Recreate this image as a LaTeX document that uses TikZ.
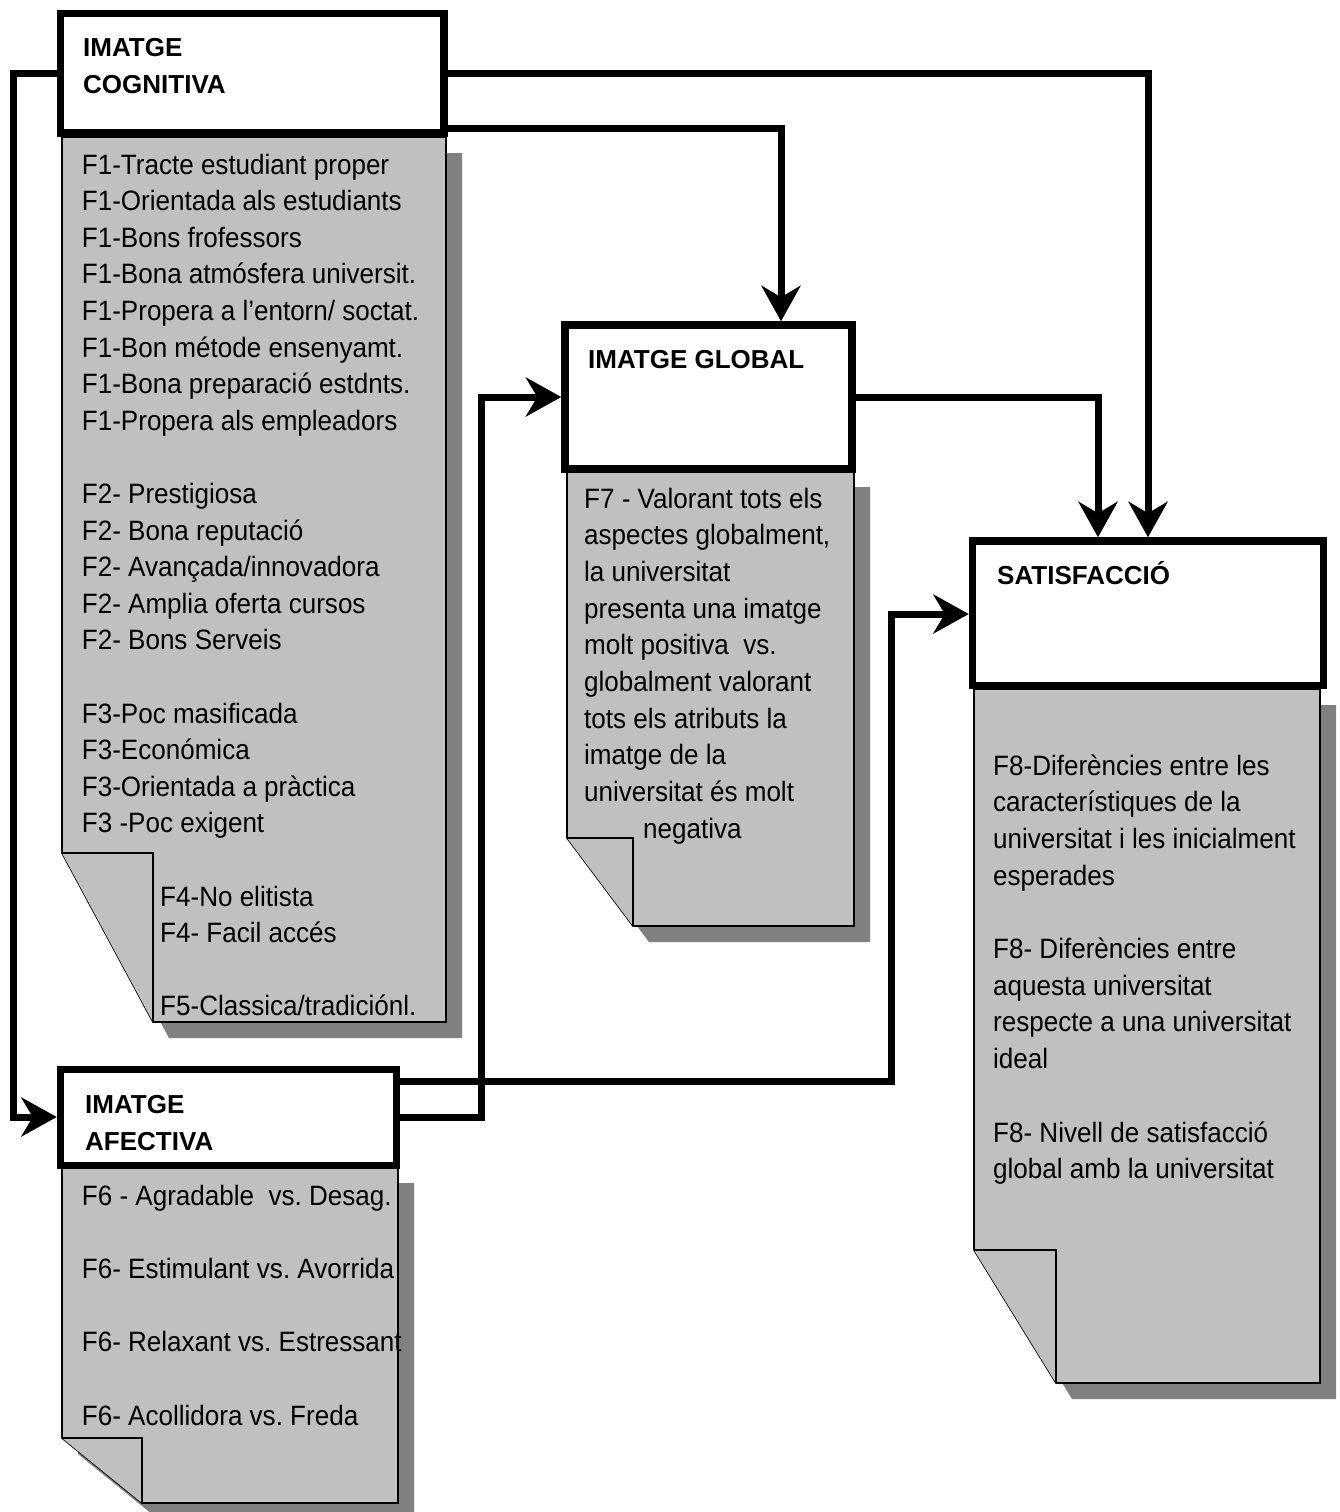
\documentclass[tikz,border=0pt]{standalone}
\usepackage{fontspec}
\setmainfont{Liberation Sans}
\newfontfamily\narrowsans[FakeStretch=0.93]{Liberation Sans}
\usetikzlibrary{arrows.meta,fit}

\definecolor{paper}{HTML}{C0C0C0}
\definecolor{dropgray}{HTML}{808080}

\tikzset{
  hdr/.style={draw=black, line width=7.5pt, fill=white, inner sep=0pt},
  conn/.style={line width=7pt, line join=miter,
    -{Stealth[length=36pt, width=40pt, inset=12pt, line width=0pt]}},
  body/.style={font=\narrowsans\fontsize{28}{36.6}\selectfont\frenchspacing,
    inner sep=0pt, anchor=base west},
  head/.style={font=\fontsize{26}{36.6}\selectfont\bfseries\frenchspacing,
    inner sep=0pt, anchor=base west},
  docedge/.style={draw=black, line width=1.6pt, fill=paper, line join=miter},
  dropshadow/.style={fill=dropgray, draw=none},
}

% sheet with folded lower-left corner and drop shadow:
% #1 left, #2 top, #3 right, #4 bottom, #5 fold x, #6 fold y
\newcommand\foldsheet[6]{%
  \path[dropshadow] (#1+16,#2+16) -- (#3+16,#2+16) -- (#3+16,#4+16)
     -- (#5+16,#4+16) -- (#1+16,#6+16) -- cycle;
  \draw[docedge] (#1,#2) -- (#3,#2) -- (#3,#4) -- (#5,#4) -- (#1,#6) -- cycle;
  \draw[docedge] (#1,#6) -- (#5,#6) -- (#5,#4);
}

\begin{document}
\begin{tikzpicture}[x=1pt, y=-1pt]
\useasboundingbox (0,0) rectangle (1339,1512);

% sheets
\foldsheet{62}{137}{446}{1022}{153}{853}
\foldsheet{567}{471}{854}{926}{633}{838}
\foldsheet{974}{689}{1320}{1383}{1056}{1250}
\foldsheet{62}{1167}{398}{1503}{142}{1438}

% header boxes
\node[hdr, fit={(60.5,13.5) (444,133)}] (cog) {};
\node[hdr, fit={(565,325) (852,469)}] (glob) {};
\node[hdr, fit={(972.5,541) (1323.5,685.5)}] (sat) {};
\node[hdr, fit={(60.5,1069.5) (396.5,1165.5)}] (afe) {};

% bend points
\coordinate (ka) at (13,73.5);
\coordinate (kb) at (13,1117);
\coordinate (kc) at (1148,73.5);
\coordinate (kd) at (781,128);
\coordinate (ke) at (1098,397);
\coordinate (kf) at (481,1117);
\coordinate (kg) at (481,397);
\coordinate (kh) at (891,1081);
\coordinate (ki) at (891,614);

% connectors
\draw[conn] (cog.west |- ka) -- (ka) -- (kb) -- (afe.west |- kb);
\draw[conn] (cog.east |- kc) -- (kc) -- (sat.north -| kc);
\draw[conn] (cog.east |- kd) -- (kd) -- (glob.north -| kd);
\draw[conn] (glob.east |- ke) -- (ke) -- (sat.north -| ke);
\draw[conn] (afe.east |- kf) -- (kf) -- (kg) -- (glob.west |- kg);
\draw[conn] (afe.east |- kh) -- (kh) -- (ki) -- (sat.west |- ki);

% header titles
\node[head] (cog-t1) at (83,56.7) {IMATGE};
\node[head] (cog-t2) at (83,93.3) {COGNITIVA};
\node[head] (glob-t) at (588,368.3) {IMATGE GLOBAL};
\node[head] (sat-t) at (997,584) {SATISFACCIÓ};
\node[head] (afe-t1) at (85,1113.3) {IMATGE};
\node[head] (afe-t2) at (85,1150) {AFECTIVA};

% cognitive image items
\node[body] (c0) at (81.7,174) {F1-Tracte estudiant proper};
\node[body] (c1) at (81.7,210.6) {F1-Orientada als estudiants};
\node[body] (c2) at (81.7,247.2) {F1-Bons frofessors};
\node[body] (c3) at (81.7,283.8) {F1-Bona atmósfera universit.};
\node[body] (c4) at (81.7,320.4) {F1-Propera a l’entorn/ soctat.};
\node[body] (c5) at (81.7,357) {F1-Bon métode ensenyamt.};
\node[body] (c6) at (81.7,393.6) {F1-Bona preparació estdnts.};
\node[body] (c7) at (81.7,430.2) {F1-Propera als empleadors};
\node[body] (c9) at (81.7,503.4) {F2- Prestigiosa};
\node[body] (c10) at (81.7,540) {F2- Bona reputació};
\node[body] (c11) at (81.7,576.6) {F2- Avançada/innovadora};
\node[body] (c12) at (81.7,613.2) {F2- Amplia oferta cursos};
\node[body] (c13) at (81.7,649.8) {F2- Bons Serveis};
\node[body] (c15) at (81.7,723) {F3-Poc masificada};
\node[body] (c16) at (81.7,759.6) {F3-Económica};
\node[body] (c17) at (81.7,796.2) {F3-Orientada a pràctica};
\node[body] (c18) at (81.7,832.8) {F3 -Poc exigent};
\node[body] (c20) at (160,906) {F4-No elitista};
\node[body] (c21) at (160,942.6) {F4- Facil accés};
\node[body] (c23) at (160,1015.8) {F5-Classica/tradiciónl.};

% global image item
\node[body] (g0) at (584,508) {F7 - Valorant tots els};
\node[body] (g1) at (584,544.7) {aspectes globalment,};
\node[body] (g2) at (584,581.4) {la universitat};
\node[body] (g3) at (584,618.1) {presenta una imatge};
\node[body] (g4) at (584,654.8) {molt positiva\ \ vs.};
\node[body] (g5) at (584,691.5) {globalment valorant};
\node[body] (g6) at (584,728.2) {tots els atributs la};
\node[body] (g7) at (584,764.9) {imatge de la};
\node[body] (g8) at (584,801.6) {universitat és molt};
\node[body] (g9) at (643,838.3) {negativa};

% satisfaction items
\node[body] (s0) at (993,775) {F8-Diferències entre les};
\node[body] (s1) at (993,811.7) {característiques de la};
\node[body] (s2) at (993,848.4) {universitat i les inicialment};
\node[body] (s3) at (993,885.1) {esperades};
\node[body] (s5) at (993,958.5) {F8- Diferències entre};
\node[body] (s6) at (993,995.2) {aquesta universitat};
\node[body] (s7) at (993,1031.9) {respecte a una universitat};
\node[body] (s8) at (993,1068.6) {ideal};
\node[body] (s10) at (993,1142) {F8- Nivell de satisfacció};
\node[body] (s11) at (993,1178.7) {global amb la universitat};

% affective image items
\node[body] (a0) at (81.7,1205) {F6 - Agradable\ \ vs. Desag.};
\node[body] (a1) at (81.7,1278.3) {F6- Estimulant vs. Avorrida};
\node[body] (a2) at (81.7,1351.7) {F6- Relaxant vs. Estressant};
\node[body] (a3) at (81.7,1425) {F6- Acollidora vs. Freda};
\end{tikzpicture}
\end{document}
